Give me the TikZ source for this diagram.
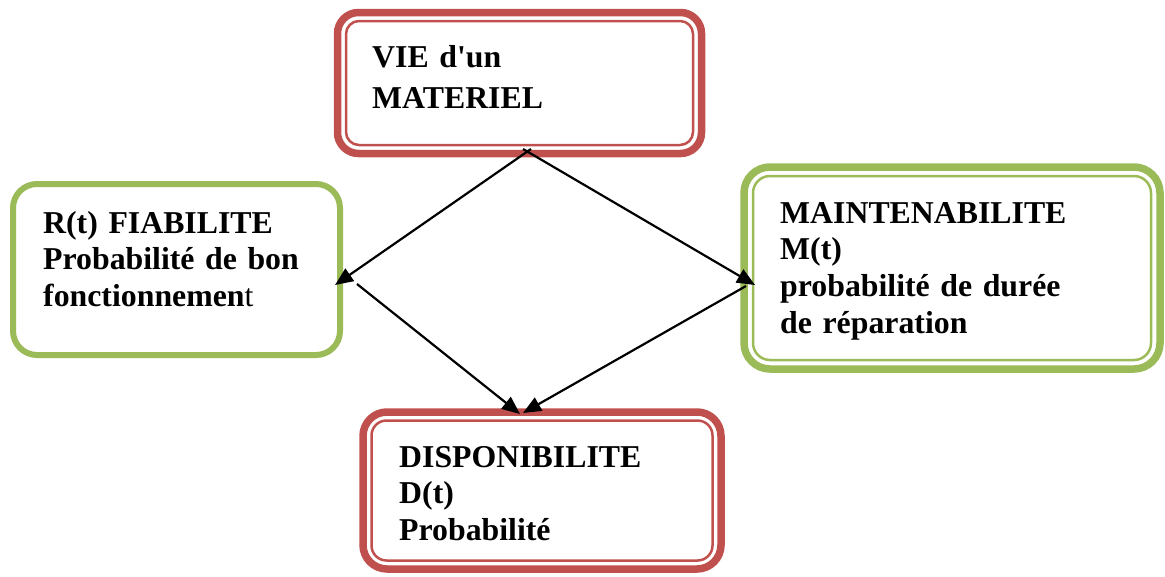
\documentclass[tikz,border=0pt]{standalone}
\usepackage{fontspec}
\setmainfont{Liberation Serif}[WordSpace=0.75]
\usetikzlibrary{arrows.meta}
\definecolor{boxred}{HTML}{C0504D}
\definecolor{boxgreen}{HTML}{9BBB59}

\begin{document}
\begin{tikzpicture}[x=1pt,y=-1pt,
  outerbox/.style={draw=#1, line width=7.5pt, inner sep=0pt, outer sep=0pt},
  singlebox/.style={draw=#1, line width=6pt, inner sep=0pt, outer sep=0pt},
  innerline/.style={draw=#1, line width=2.5pt},
  boxtext/.style={anchor=base west, inner sep=0pt, align=left, text width=#1,
    font=\fontsize{31.8}{36.7}\selectfont\bfseries},
  link/.style={line width=2.2pt, -{Triangle[length=18pt,width=15pt]}}]

\useasboundingbox (0,0) rectangle (1165,576);

% --- boxes ---
\node[outerbox=boxred, rounded corners=21pt, minimum width=364pt, minimum height=141pt]
  (vie) at (519.5,83) {};
\draw[innerline=boxred, rounded corners=13pt]
  ([xshift=8.5pt,yshift=-8.5pt]vie.north west) rectangle ([xshift=-8.5pt,yshift=8.5pt]vie.south east);

\node[singlebox=boxgreen, rounded corners=24pt, minimum width=327pt, minimum height=171pt]
  (fiab) at (176.5,269.5) {};

\node[outerbox=boxgreen, rounded corners=26pt, minimum width=416pt, minimum height=202pt]
  (maint) at (952,268) {};
\draw[innerline=boxgreen, rounded corners=17pt]
  ([xshift=9pt,yshift=-9pt]maint.north west) rectangle ([xshift=-9pt,yshift=9pt]maint.south east);

\node[outerbox=boxred, rounded corners=24pt, minimum width=358pt, minimum height=157pt]
  (disp) at (542,490.5) {};
\draw[innerline=boxred, rounded corners=15pt]
  ([xshift=8.5pt,yshift=-8.5pt]disp.north west) rectangle ([xshift=-8.5pt,yshift=8.5pt]disp.south east);

% --- texts ---
\node[boxtext=300pt, font=\fontsize{31.8}{41}\selectfont\bfseries] (vie-t) at (372,67)
  {VIE d\textquotesingle un\\MATERIEL};
\node[boxtext=300pt] (fiab-t) at (43,233)
  {R(t) FIABILITE\\Probabilité de bon\\fonctionnemen\textmd{t}};
\node[boxtext=370pt] (maint-t) at (780,223)
  {MAINTENABILITE\\M(t)\\probabilité de durée\\de réparation};
\node[boxtext=300pt] (disp-t) at (399,467)
  {DISPONIBILITE\\D(t)\\Probabilité};

% --- connector ends ---
\coordinate (vieL) at (531,149);
\coordinate (vieR) at (523,149);
\coordinate (fiabIn) at (335,285);
\coordinate (fiabOut) at (357,284);
\coordinate (maintIn) at (755,285);
\coordinate (maintOut) at (746,286);
\coordinate (dispInL) at (520,414);
\coordinate (dispInR) at (523,413);

% --- connectors ---
\draw[link] (vieL) -- (fiabIn);
\draw[link] (vieR) -- (maintIn);
\draw[link] (fiabOut) -- (dispInL);
\draw[link] (maintOut) -- (dispInR);
\end{tikzpicture}
\end{document}
